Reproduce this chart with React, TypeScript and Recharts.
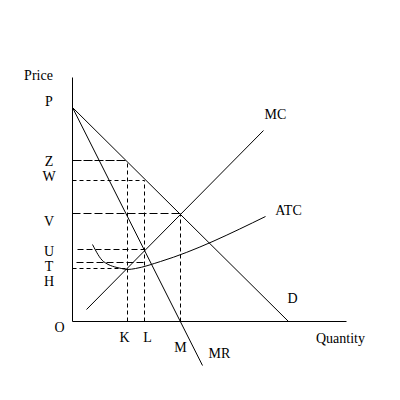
import React from 'react';
import { ComposedChart, Line, XAxis, YAxis, ReferenceLine, ReferenceDot } from 'recharts';

// curves (quantity q, price p)
const demand = [
  { q: 0, p: 21.4 },
  { q: 21.6, p: 0 },
];
const marginalRevenue = [
  { q: 0, p: 21.4 },
  { q: 13.0, p: -4.4 },
];
const marginalCost = [
  { q: 1.4, p: 1.2 },
  { q: 19.1, p: 19.1 },
];
const averageCost = [
  { q: 2.0, p: 7.7 },
  { q: 3.1, p: 6.0 },
  { q: 4.9, p: 5.3 },
  { q: 5.5, p: 5.2 },
  { q: 6.3, p: 5.3 },
  { q: 8.8, p: 6.0 },
  { q: 19.3, p: 10.5 },
];

// price levels on the vertical axis
const priceLevels = [
  { label: 'P', p: 21.4 },
  { label: 'Z', p: 16.1 },
  { label: 'W', p: 14.1 },
  { label: 'V', p: 10.8 },
  { label: 'U', p: 7.2 },
  { label: 'T', p: 5.9 },
  { label: 'H', p: 5.3 },
];

// dashed guides
const hGuides = [
  { p: 16.1, from: 0, to: 5.5, dash: '9 2' },
  { p: 14.1, from: 0, to: 7.2, dash: '4 3' },
  { p: 10.8, from: 0, to: 10.8, dash: '8 3' },
  { p: 7.2, from: 0.5, to: 7.2, dash: '6 3' },
  { p: 5.9, from: 0.4, to: 7.2, dash: '7 3' },
  { p: 5.3, from: 0, to: 5.5, dash: '4 3' },
];
const vGuides = [
  { q: 5.5, top: 16.1 },
  { q: 7.2, top: 14.1 },
  { q: 10.8, top: 10.8 },
];

// text notes (centre of each text)
const notes = [
  { text: 'Price', q: -3.4, p: 24.6 },
  { text: 'O', q: -1.3, p: -0.6 },
  { text: 'K', q: 5.2, p: -1.6 },
  { text: 'L', q: 7.5, p: -1.6 },
  { text: 'M', q: 10.8, p: -2.6 },
  { text: 'MR', q: 14.7, p: -3.2 },
  { text: 'D', q: 22.0, p: 2.3 },
  { text: 'Quantity', q: 26.8, p: -1.7 },
  { text: 'MC', q: 20.3, p: 20.7 },
  { text: 'ATC', q: 21.6, p: 11.1 },
];

const FONT = '"Liberation Serif", serif';
const INK = '#000';

// small vertical nudges so letters sit like the original
const nudge: Record<string, number> = { P: -7, Z: 0, W: -5, V: 7, U: 1, T: 3, H: 12 };

const PriceTick = (props: any) => {
  const { x, y, payload } = props;
  const level = priceLevels.find((l) => l.p === payload.value);
  if (!level) return null;
  return (
    <text x={x - 23} y={y + (nudge[level.label] || 0) + 5} textAnchor="middle" fill={INK} fontSize={14} fontFamily={FONT}>
      {level.label}
    </text>
  );
};

export default function App() {
  // domains shifted by half a pixel so 1px rules land crisp
  return (
    <ComposedChart width={392} height={392} margin={{ top: 70, right: 54, bottom: 28, left: 24 }}>
      <XAxis type="number" dataKey="q" domain={[-0.05, 27.35]} hide />
      <YAxis
        type="number"
        domain={[-5.05, 24.35]}
        ticks={priceLevels.map((l) => l.p)}
        interval={0}
        width={40}
        axisLine={false}
        tickLine={false}
        tickSize={0}
        tickMargin={0}
        tick={<PriceTick />}
      />

      <ReferenceLine segment={[{ x: 0, y: 0 }, { x: 27.4, y: 0 }]} stroke={INK} ifOverflow="visible" />
      <ReferenceLine segment={[{ x: 0, y: 0 }, { x: 0, y: 24.4 }]} stroke={INK} ifOverflow="visible" />

      {hGuides.map((g, i) => (
        <ReferenceLine
          key={`h-${i}`}
          segment={[{ x: g.from, y: g.p }, { x: g.to, y: g.p }]}
          stroke={INK}
          strokeDasharray={g.dash}
          ifOverflow="visible"
        />
      ))}
      {vGuides.map((g, i) => (
        <ReferenceLine
          key={`v-${i}`}
          segment={[{ x: g.q, y: 0 }, { x: g.q, y: g.top }]}
          stroke={INK}
          strokeDasharray="4 3"
          ifOverflow="visible"
        />
      ))}

      <Line data={demand} dataKey="p" type="linear" stroke={INK} dot={false} isAnimationActive={false} />
      <Line data={marginalRevenue} dataKey="p" type="linear" stroke={INK} dot={false} isAnimationActive={false} />
      <Line data={marginalCost} dataKey="p" type="linear" stroke={INK} dot={false} isAnimationActive={false} />
      <Line data={averageCost} dataKey="p" type="monotone" stroke={INK} dot={false} isAnimationActive={false} />

      {notes.map((n) => (
        <ReferenceDot
          key={n.text}
          x={n.q}
          y={n.p}
          r={0}
          fill="none"
          stroke="none"
          ifOverflow="visible"
          label={{ value: n.text, position: 'center', fill: INK, fontSize: 14, fontFamily: FONT }}
        />
      ))}
    </ComposedChart>
  );
}
